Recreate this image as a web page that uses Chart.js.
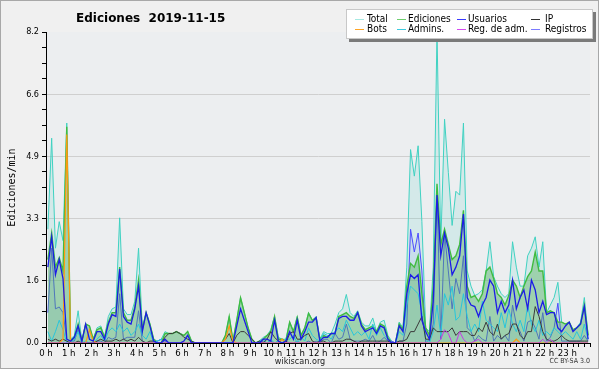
<!DOCTYPE html>
<html><head><meta charset="utf-8">
<script src="https://cdn.jsdelivr.net/npm/chart.js@4.4.1/dist/chart.umd.min.js"></script>
<style>
html,body{margin:0;padding:0;background:#fff;}
#wrap{position:relative;width:600px;height:370px;overflow:hidden;}
#frame{position:absolute;left:0;top:0;width:597px;height:367px;border:1px solid #a8a8a8;background:#f0f0f0;}
canvas{position:absolute;left:0;top:0;}
.t{position:absolute;white-space:nowrap;color:#000;}
#title{left:76px;top:11px;font:bold 12px "DejaVu Sans",sans-serif;line-height:14px;}
#site{left:0;width:600px;text-align:center;top:356px;font:9px "DejaVu Sans Condensed","DejaVu Sans",sans-serif;color:#222;}
#lic{right:10px;top:357px;font:7px "DejaVu Sans Condensed","DejaVu Sans",sans-serif;color:#333;}
#legend{position:absolute;left:346px;top:9px;width:245px;height:28px;background:#fff;border:1px solid #c8c8c8;box-shadow:3px 3px 0 #7a7a7a;}
.li{position:absolute;white-space:nowrap;font:10px "DejaVu Sans Condensed","Liberation Sans",sans-serif;line-height:10px;color:#000;}
.ln{position:absolute;height:1px;width:9px;}
</style></head>
<body>
<div id="wrap">
<div id="frame"></div>
<canvas id="c" width="600" height="370"></canvas>
<div class="t" id="title">Ediciones&nbsp; 2019-11-15</div>
<div id="legend"></div>
<div class="t" id="site">wikiscan.org</div>
<div class="t" id="lic">CC BY-SA 3.0</div>
</div>
<script>
// 10-minute bins, 00:00 .. 23:50 (values in edits/min)
const total = [
3.0,5.4,2.5,3.2,2.7,5.8,
0.1,0.2,0.85,0.05,0.5,0.45,
0.1,0.4,0.45,0.15,0.7,0.9,
0.95,3.3,0.9,0.75,0.75,1.1,
2.5,0.4,0.8,0.5,0.1,0.05,
0.1,0.3,0.25,0.25,0.3,0.25,
0.2,0.3,0.05,0,0,0,
0,0,0,0,0,0.2,
0.7,0.05,0.6,1.2,0.8,0.4,
0.1,0,0.05,0.15,0.2,0.35,
0.7,0.15,0.1,0.1,0.55,0.3,
0.7,0.2,0.4,0.8,0.6,0.7,
0.1,0.3,0.25,0.25,0.5,0.8,
0.9,1.28,0.8,0.7,0.85,0.55,
0.45,0.45,0.66,0.3,0.55,0.6,
0.2,0.05,0,0.55,0.4,2.0,
5.1,4.4,5.2,3.2,0.4,0.3,
2.0,8.2,2.6,5.9,4.5,3.1,
4.0,3.9,5.8,1.9,1.5,1.25,
1.3,1.4,1.9,2.67,1.75,1.5,
1.3,1.2,1.3,2.67,2.0,1.5,
1.5,2.3,2.5,2.8,2.0,2.67,
0.8,1.0,1.2,1.6,0.55,0.5,
0.55,0.35,0.4,0.55,1.2,0.2];
const ediciones = [
2.2,2.9,2.0,2.25,1.9,5.7,
0.05,0.15,0.5,0.05,0.5,0.45,
0.1,0.35,0.4,0.15,0.55,0.8,
0.8,2.0,0.8,0.6,0.6,0.95,
1.66,0.35,0.8,0.5,0.1,0,
0,0.25,0.25,0.25,0.3,0.25,
0.2,0.3,0.05,0,0,0,
0,0,0,0,0,0.2,
0.7,0.05,0.6,1.19,0.8,0.4,
0.1,0,0.05,0.1,0.2,0.3,
0.7,0.1,0.1,0.05,0.55,0.3,
0.67,0.2,0.4,0.78,0.6,0.67,
0.1,0.2,0.15,0.25,0.25,0.7,
0.75,0.8,0.7,0.65,0.8,0.5,
0.35,0.4,0.45,0.3,0.5,0.45,
0.15,0,0,0.5,0.35,1.5,
2.1,2.0,2.3,1.3,0.4,0.2,
1.5,4.2,2.6,3.0,2.6,2.2,
2.3,2.6,3.5,1.5,1.2,1.25,
1.1,1.3,1.9,2.0,1.7,1.3,
1.2,1.0,1.25,1.66,1.5,1.2,
1.5,1.75,1.9,2.4,1.9,1.9,
0.8,0.85,0.8,0.55,0.55,0.5,
0.55,0.35,0.4,0.5,1.0,0.2];
const usuarios = [
2.0,2.8,1.8,2.2,1.7,0.1,
0.05,0.15,0.45,0.05,0.5,0.1,
0.05,0.3,0.3,0.1,0.5,0.75,
0.7,1.95,0.7,0.55,0.5,0.9,
1.5,0.3,0.8,0.45,0.05,0,
0,0.1,0,0,0,0,
0.05,0.2,0,0,0,0,
0,0,0,0,0,0,
0,0,0.45,0.9,0.6,0.3,
0,0,0,0.1,0.1,0.05,
0.6,0.05,0,0.05,0.3,0.1,
0.6,0.1,0.3,0.55,0.55,0.67,
0.05,0.15,0.15,0.25,0.25,0.65,
0.7,0.7,0.6,0.6,0.8,0.45,
0.3,0.35,0.4,0.25,0.45,0.4,
0.1,0,0,0.45,0.3,1.3,
1.8,1.7,1.8,0.6,0.3,0.1,
1.1,3.9,2.3,2.9,2.5,1.8,
2.0,2.3,3.4,1.2,1.0,0.96,
0.7,1.0,1.2,1.66,1.5,0.8,
1.1,0.8,1.0,1.66,0.9,1.2,
1.4,0.9,1.66,1.4,0.8,1.1,
0.75,0.8,0.8,0.4,0.3,0.45,
0.55,0.3,0.4,0.5,0.96,0.1];
const ip = [
0.1,0.05,0.1,0.05,0.1,0.05,
0,0,0.05,0,0,0,
0,0.05,0.1,0.05,0.05,0.05,
0.1,0.05,0.1,0.05,0.1,0.05,
0.15,0.05,0,0.05,0.05,0,
0,0.15,0.25,0.25,0.3,0.25,
0.15,0.1,0.05,0,0,0,
0,0,0,0,0,0.1,
0.25,0,0.2,0.3,0.3,0.2,
0.1,0,0.05,0,0.1,0.3,
0.15,0.05,0,0,0.25,0.3,
0.1,0.1,0.2,0.25,0.05,0,
0.05,0.05,0,0,0.05,0.05,
0.05,0.1,0.1,0.05,0,0.05,
0.05,0.05,0.05,0.05,0.05,0.05,
0.05,0,0,0.05,0.05,0.1,
0.3,0.3,0.5,0.7,0.1,0.1,
0.4,0.3,0.3,0.3,0.3,0.4,
0.2,0.3,0.3,0.3,0.2,0.2,
0.4,0.3,0.55,0.3,0.2,0.5,
0.1,0.2,0.25,0.5,0.5,0.2,
0.1,0.3,0.3,0.96,0.7,0.3,
0.1,0.05,0.05,0.1,0.2,0.1,
0.05,0.05,0.05,0.05,0.05,0.05];
const bots = [
0,0,0,0,0.1,5.5,
0,0,0,0,0,0.35,
0.05,0,0,0,0,0,
0,0,0,0,0,0,
0,0,0,0,0,0,
0,0,0,0,0,0,
0,0,0,0,0,0,
0,0,0,0,0,0.1,
0.45,0.05,0,0,0,0,
0,0,0,0,0,0,
0,0,0.1,0,0,0,
0,0,0,0,0,0,
0,0,0,0,0,0,
0,0,0,0,0,0,
0,0,0,0,0,0,
0,0,0,0,0,0,
0,0,0,0,0,0,
0,0,0,0,0,0,
0,0,0,0,0,0,
0,0,0,0,0,0,
0,0,0,0,0.1,0,
0,0,0,0,0,0,
0,0,0,0,0,0,
0,0,0,0,0,0];
const admins = [
0.3,0.05,0.3,0.6,0.35,0,
0,0.1,0.3,0,0.05,0,
0,0.1,0.2,0.05,0.3,0.4,
0.3,0.5,0.3,0.4,0.2,0.3,
0.5,0.2,0.1,0.3,0,0.05,
0.1,0,0,0,0,0,
0,0,0,0,0,0,
0,0,0,0,0,0,
0,0,0,0,0,0,
0,0,0.05,0.1,0,0.1,
0,0.05,0,0.1,0.1,0.2,
0,0.15,0.05,0.4,0.2,0.1,
0.05,0.25,0.2,0.1,0.3,0.4,
0.3,0.6,0.4,0.2,0.3,0.2,
0.3,0.1,0.5,0.2,0.4,0.2,
0.1,0,0,0.3,0.2,1.0,
1.5,1.4,1.3,0.8,0.1,0,
0.3,1.0,0.2,1.3,1.0,1.5,
0.6,0.7,1.3,0.7,0.3,0.5,
0.3,1.1,0.6,0.5,0.4,0.3,
0.8,0.4,0.9,0.5,0.3,0.6,
0.3,1.0,0.5,0.3,0.6,0.2,
0.3,0.2,0.4,0.3,0.2,0.3,
0.2,0.1,0.3,0.1,0.5,0.1];
const regAdm = [
0,0,0,0,0,0, 0,0,0,0,0,0, 0,0,0,0,0,0, 0,0,0,0,0,0,
0,0,0,0,0,0, 0,0,0,0,0,0, 0,0,0,0,0,0, 0,0,0,0,0,0,
0,0,0,0,0,0, 0,0,0,0,0,0, 0,0,0,0,0,0, 0,0,0,0,0,0,
0,0,0,0,0,0, 0,0,0,0,0,0, 0,0,0,0,0,0, 0,0,0,0,0,0,
0,0,0,0,0,0,
0,0,0.1,0.35,0.25,0,
0,0.3,0.1,0,0,0.05,
0.1,0,0,0,0,0,
0,0,0,0,0,0,
0,0,0,0,0,0.1,
0,0.1,0,0,0,0,
0,0,0,0,0,0];
const registros = [
0.8,2.5,0.9,0.95,0.8,0.1,
0.05,0.05,0.35,0,0,0,
0,0.05,0.05,0,0.15,0.1,
0.15,1.3,0.1,0.15,0.15,0.15,
0.85,0.05,0,0,0,0.05,
0.1,0.05,0,0,0,0,
0,0,0,0,0,0,
0,0,0,0,0,0,
0,0,0,0,0,0,
0,0,0,0.05,0,0.05,
0,0.05,0,0.05,0,0,
0.05,0,0,0.05,0,0.05,
0,0.1,0.1,0,0.25,0.1,
0.15,0.5,0.1,0.05,0.05,0.05,
0.1,0.05,0.2,0,0.05,0.15,
0.05,0.05,0,0.05,0.05,0.5,
3.0,2.4,2.9,1.9,0,0.1,
0.5,4.0,0.1,2.9,1.9,0.9,
1.7,1.3,2.3,0.4,0.3,0.05,
0.2,0.1,0.05,0.7,0.05,0.2,
0.1,0.2,0.05,1.0,0.5,0.3,
0.05,0.55,0.6,0.4,0.1,0.8,
0.05,0.15,0.4,1.05,0.05,0.05,
0.05,0.05,0.05,0.05,0.2,0.05];

const seriesNames = ['Total','Ediciones','Usuarios','IP','Bots','Admins.','Reg. de adm.','Registros'];
const yTickLabels = ['0.0','1.6','3.3','4.9','6.6','8.2'];
const hourLabels = ['0 h','1 h','2 h','3 h','4 h','5 h','6 h','7 h','8 h','9 h','10 h','11 h','12 h','13 h','14 h','15 h','16 h','17 h','18 h','19 h','20 h','21 h','22 h','23 h'];

// bin centre, in minutes since midnight
const binMinutes = total.map((_, i) => i * 10 + 5);
const pts = arr => arr.map((v, i) => ({x: binMinutes[i], y: v}));

const legendColors = ['#a6e9e2','#6fcf6f','#3a3aff','#333333','#ffa526','#3dcbe0','#d64af0','#7b7bff'];
const lg = document.getElementById('legend');
const colX = [[8,20],[50,61],[110,121],[184,198]];
seriesNames.forEach((n, k) => {
  const col = k % 4, row = Math.floor(k / 4);
  const ln = document.createElement('div');
  ln.className = 'ln';
  ln.style.left = colX[col][0] + 'px';
  ln.style.top = (row ? 19 : 9) + 'px';
  ln.style.background = legendColors[k];
  lg.appendChild(ln);
  const t = document.createElement('div');
  t.className = 'li';
  t.textContent = n;
  t.style.left = colX[col][1] + 'px';
  t.style.top = (row ? 14 : 4) + 'px';
  lg.appendChild(t);
});

const bgPlugin = {
  id: 'plotbg',
  beforeDraw(chart) {
    const {ctx, chartArea: a} = chart;
    ctx.save();
    ctx.fillStyle = '#eceef0';
    ctx.fillRect(a.left, a.top, a.right - a.left, a.bottom - a.top);
    ctx.restore();
  }
};

const FONT = '"DejaVu Sans Condensed","DejaVu Sans",sans-serif';
new Chart(document.getElementById('c'), {
  type: 'line',
  data: {
    datasets: [
      {label: seriesNames[0], data: pts(total), borderColor: '#40d2c2', backgroundColor: 'rgba(90,214,196,0.16)', fill: 'origin', borderWidth: 1, order: 9},
      {label: seriesNames[7], data: pts(registros), borderColor: '#4c4cff', backgroundColor: 'rgba(90,110,255,0.09)', fill: 'origin', borderWidth: 1, order: 8},
      {label: seriesNames[1], data: pts(ediciones), borderColor: '#40bb40', backgroundColor: 'rgba(84,176,92,0.42)', fill: 'origin', borderWidth: 1.4, order: 7},
      {label: seriesNames[5], data: pts(admins), borderColor: '#28c6dc', borderWidth: 1, fill: false, order: 6},
      {label: seriesNames[3], data: pts(ip), borderColor: '#3a3a3a', borderWidth: 1, fill: false, order: 5},
      {label: seriesNames[4], data: pts(bots), borderColor: '#ff9a10', borderWidth: 1.2, fill: false, order: 4},
      {label: seriesNames[6], data: pts(regAdm), borderColor: '#c83ae8', borderWidth: 1, fill: false, order: 3},
      {label: seriesNames[2], data: pts(usuarios), borderColor: '#1c1ce6', borderWidth: 1.3, fill: false, order: 2}
    ]
  },
  options: {
    responsive: false,
    animation: false,
    devicePixelRatio: 1,
    layout: {padding: {top: 32, right: 10, left: 0, bottom: 0}},
    plugins: {legend: {display: false}, tooltip: {enabled: false}, title: {display: false}},
    elements: {point: {radius: 0}, line: {tension: 0}},
    scales: {
      x: {
        type: 'linear', min: 0, max: 1440,
        afterFit(s) { s.height = 27; },
        afterBuildTicks(s) { s.ticks = Array.from({length: 97}, (_, k) => ({value: k * 15})); },
        ticks: {
          autoSkip: false, maxRotation: 0, minRotation: 0, padding: 1, color: '#000',
          font: {family: FONT, size: 9.5},
          callback: (v) => (v % 60 === 0 && v < 1440) ? hourLabels[v / 60] : ''
        },
        grid: {drawOnChartArea: false, drawTicks: true, tickLength: 4, tickColor: '#000', color: '#000'},
        border: {color: '#000', width: 1}
      },
      y: {
        min: 0, max: 8.2,
        afterFit(s) { s.width = 46; },
        afterBuildTicks(s) { s.ticks = Array.from({length: 21}, (_, k) => ({value: k * 0.41})); },
        ticks: {
          autoSkip: false, padding: 3, color: '#000',
          font: {family: FONT, size: 9},
          callback: (v, i) => (i % 4 === 0) ? yTickLabels[i / 4] : ''
        },
        grid: {
          drawTicks: true, tickLength: 4, tickColor: '#000',
          color: (c) => (c.index % 4 === 0 && c.index > 0 && c.index < 20) ? '#cfcfcf' : 'rgba(0,0,0,0)'
        },
        border: {color: '#000', width: 1},
        title: {display: true, text: 'Ediciones/min', color: '#000', font: {family: '"DejaVu Sans Mono",monospace', size: 10}, padding: {top: 6, bottom: 0}}
      }
    }
  },
  plugins: [bgPlugin]
});
</script>
</body></html>
